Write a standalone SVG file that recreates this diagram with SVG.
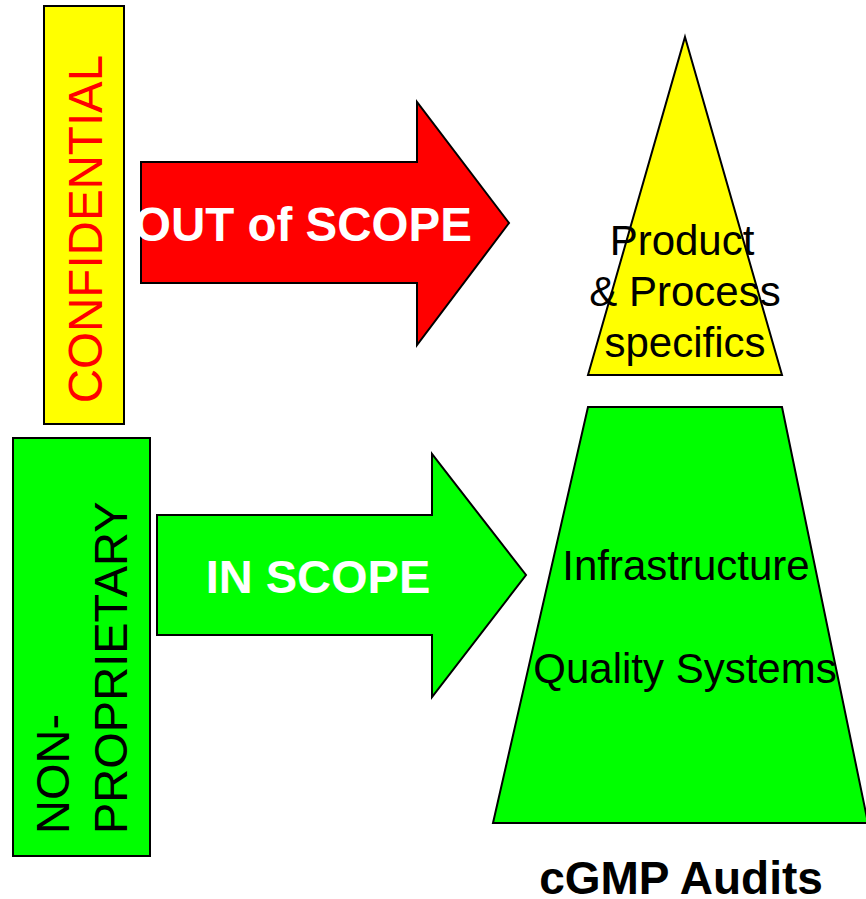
<svg xmlns="http://www.w3.org/2000/svg" width="866" height="899" viewBox="0 0 866 899">
<style>
.shape{stroke:#000;stroke-width:2;stroke-linejoin:miter}
.t{font-family:"Liberation Sans",Arial,sans-serif}
.b{font-weight:bold}
</style>
<rect width="866" height="899" fill="#fff"/>
<g id="confidential">
<rect class="shape" x="44" y="6" width="80" height="418" fill="#ffff00"/>
<text class="t" transform="translate(102,229) rotate(-90)" text-anchor="middle" font-size="47.5" fill="#ff0000">CONFIDENTIAL</text>
</g>
<g id="non-proprietary">
<rect class="shape" x="13" y="438" width="137" height="418" fill="#00ff00"/>
<text class="t" transform="translate(69,834) rotate(-90)" font-size="47" fill="#000"><tspan x="0" y="0">NON-</tspan><tspan x="0" dy="58">PROPRIETARY</tspan></text>
</g>
<g id="connectors">
<g id="out-of-scope">
<polygon class="shape" points="141,162 417,162 417,102 509,223 417,345 417,283 141,283" fill="#ff0000"/>
<text class="t b" x="303" y="241" text-anchor="middle" font-size="47.5" fill="#fff">OUT of SCOPE</text>
</g>
<g id="in-scope">
<polygon class="shape" points="157,515 432,515 432,454 526,575 432,697 432,635 157,635" fill="#00ff00"/>
<text class="t b" x="318" y="593" text-anchor="middle" font-size="47" fill="#fff">IN SCOPE</text>
</g>
</g>
<g id="product-process">
<polygon class="shape" points="685,37 782,375 588,375" fill="#ffff00"/>
<text class="t" text-anchor="middle" font-size="42" fill="#000"><tspan x="682" y="255">Product</tspan><tspan x="685" y="306">&amp; Process</tspan><tspan x="685" y="357">specifics</tspan></text>
</g>
<g id="infrastructure">
<polygon class="shape" points="588,407 782,407 868,823 493,823" fill="#00ff00"/>
<text class="t" x="686" y="580" text-anchor="middle" font-size="42" fill="#000">Infrastructure</text>
<text class="t" x="685" y="683" text-anchor="middle" font-size="42" fill="#000">Quality Systems</text>
</g>
<g id="title">
<text class="t b" x="681" y="894" text-anchor="middle" font-size="46" fill="#000">cGMP Audits</text>
</g>
</svg>
